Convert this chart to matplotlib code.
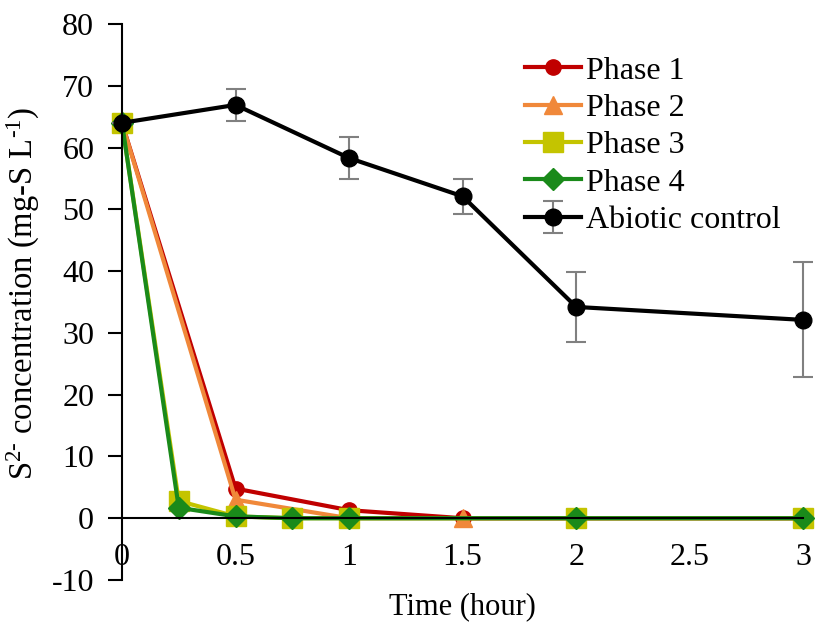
import matplotlib
matplotlib.use("Agg")
import matplotlib.pyplot as plt

plt.rcParams["font.family"] = ["Liberation Serif", "DejaVu Serif"]
plt.rcParams["mathtext.fontset"] = "custom"
plt.rcParams["mathtext.rm"] = "Liberation Serif"
plt.rcParams["mathtext.it"] = "Liberation Serif:italic"
plt.rcParams["axes.unicode_minus"] = False

# data
t_a = [0, 0.5, 1, 1.5, 2, 3]
t_b = [0, 0.25, 0.5, 0.75, 1, 2, 3]
phase1 = [64, 4.8, 1.3, 0, 0, 0]
phase2 = [64, 3.0, 0, 0, 0, 0]
phase3 = [64, 2.8, 0.3, 0, 0, 0, 0]
phase4 = [64, 1.7, 0.3, 0, 0, 0, 0]
abiotic = [64, 66.9, 58.3, 52.1, 34.2, 32.1]
abiotic_err = [0, 2.6, 3.4, 2.8, 5.6, 9.3]

fig = plt.figure(figsize=(8.17, 6.23), dpi=100)
ax = fig.add_axes([0.1493, 0.069, 0.834, 0.8925])

lw = 3.0
ax.plot(t_a, phase1, color="#C00000", lw=lw, marker="o", ms=11,
        label="Phase 1", clip_on=False)
ax.plot(t_a, phase2, color="#F0883A", lw=lw, marker="^", ms=13,
        label="Phase 2", clip_on=False)
ax.plot(t_b, phase3, color="#C4C400", lw=lw, marker="s", ms=14,
        label="Phase 3", clip_on=False)
ax.plot(t_b, phase4, color="#1A8A1A", lw=lw, marker="D", ms=11.5,
        label="Phase 4", clip_on=False)
ax.errorbar(t_a, abiotic, yerr=abiotic_err, color="black", lw=lw, marker="o",
            ms=12, ecolor="#808080", elinewidth=1.5, capsize=7, capthick=1.5,
            label="Abiotic control", clip_on=False)

ax.set_xlim(0, 3)
ax.set_ylim(-10, 80)
ax.set_yticks(range(-10, 81, 10))
ax.set_xticks([0, 0.5, 1, 1.5, 2, 2.5, 3])
ax.set_xticklabels(["0", "0.5", "1", "1.5", "2", "2.5", "3"])

ax.spines["top"].set_visible(False)
ax.spines["right"].set_visible(False)
ax.spines["bottom"].set_position(("data", 0))
ax.spines["left"].set_linewidth(1.5)
ax.spines["bottom"].set_linewidth(1.5)
ax.tick_params(axis="y", direction="out", length=10, width=1.5, labelsize=23, pad=10)
ax.tick_params(axis="x", length=0, labelsize=23, pad=18)

ax.set_xlabel("Time (hour)", fontsize=22)
ax.xaxis.set_label_coords(0.5, -0.022)
ax.set_ylabel("S$^{2\u2010}$ concentration (mg-S L$^{\u20101}$)", fontsize=23.5)
ax.yaxis.set_label_coords(-0.118, 0.516)

ax.legend(loc="upper right", bbox_to_anchor=(0.985, 0.965), frameon=False,
          fontsize=23, handlelength=1.75, handletextpad=0.15,
          labelspacing=0.25, borderaxespad=0)

fig.savefig("out.png", dpi=100)
